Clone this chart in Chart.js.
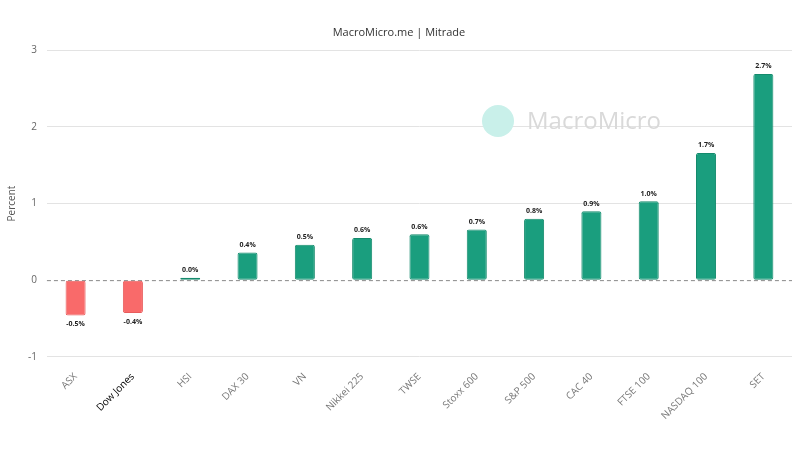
<!DOCTYPE html>
<html>
<head>
<meta charset="utf-8">
<script src="https://cdn.jsdelivr.net/npm/chart.js@4/dist/chart.umd.min.js"></script>
<style>
  html, body { margin: 0; padding: 0; background: #fff; }
  #wrap { width: 800px; height: 450px; }
</style>
</head>
<body>
<div id="wrap"><canvas id="myChart"></canvas></div>
<script>
const indices = ["ASX", "Dow Jones", "HSI", "DAX 30", "VN", "Nikkei 225", "TWSE", "Stoxx 600", "S&P 500", "CAC 40", "FTSE 100", "NASDAQ 100", "SET"];
const changes = [-0.46, -0.43, 0.03, 0.36, 0.46, 0.55, 0.6, 0.66, 0.8, 0.9, 1.03, 1.66, 2.69];
const yTicks = [-1, 0, 1, 2, 3];

const green = '#1a9e7e';
const red = '#f96a6a';

// value labels over / under each bar
const barLabels = {
  id: 'barLabels',
  afterDatasetsDraw(chart) {
    const ctx = chart.ctx;
    const meta = chart.getDatasetMeta(0);
    ctx.save();
    ctx.font = 'bold 7px "Open Sans", sans-serif';
    ctx.fillStyle = '#222';
    ctx.textAlign = 'center';
    meta.data.forEach((bar, i) => {
      const v = changes[i];
      const txt = v.toFixed(1) + '%';
      if (v >= 0) {
        ctx.textBaseline = 'bottom';
        ctx.fillText(txt, bar.x, bar.y - 4);
      } else {
        ctx.textBaseline = 'top';
        ctx.fillText(txt, bar.x, bar.y + 5);
      }
    });
    ctx.restore();
  }
};

// faint brand watermark behind the bars
const watermark = {
  id: 'watermark',
  beforeDatasetsDraw(chart) {
    const ctx = chart.ctx;
    const cx = 527;
    const cy = 121;
    ctx.save();
    ctx.fillStyle = '#c9f0ea';
    ctx.beginPath();
    ctx.arc(cx - 29, cy, 16, 0, Math.PI * 2);
    ctx.fill();
    ctx.fillStyle = '#d9d9d9';
    ctx.font = '24px "Open Sans", sans-serif';
    ctx.textAlign = 'left';
    ctx.textBaseline = 'middle';
    ctx.fillText('MacroMicro', cx, cy + 1);
    ctx.restore();
  }
};

const ctx = document.getElementById('myChart').getContext('2d');
const myChart = new Chart(ctx, {
  type: 'bar',
  data: {
    labels: indices,
    datasets: [{
      label: 'Percent',
      data: changes,
      backgroundColor: changes.map(v => v < 0 ? red : green),
      borderColor: changes.map(v => v < 0 ? '#e85c5c' : '#148a6c'),
      borderWidth: 1,
      borderRadius: 2,
      borderSkipped: false,
      barPercentage: 0.35,
      categoryPercentage: 1
    }]
  },
  options: {
    responsive: true,
    maintainAspectRatio: false,
    animation: false,
    layout: { padding: { left: 6, right: 8, top: 4, bottom: 22 } },
    plugins: {
      legend: { display: false },
      tooltip: { enabled: false },
      title: {
        display: true,
        text: 'MacroMicro.me | Mitrade',
        color: '#333',
        font: { family: '"Open Sans", sans-serif', size: 11, weight: 'normal' },
        padding: { top: 22, bottom: 11 }
      }
    },
    scales: {
      x: {
        grid: { display: false },
        border: { display: false },
        ticks: {
          color: (c) => c.index === 1 ? '#000' : '#777',
          font: { family: '"Open Sans", sans-serif', size: 10 },
          maxRotation: 45,
          minRotation: 45,
          padding: 6
        }
      },
      y: {
        min: yTicks[0],
        max: yTicks[yTicks.length - 1],
        afterBuildTicks: (axis) => { axis.ticks = yTicks.map(v => ({ value: v })); },
        title: {
          display: true,
          text: 'Percent',
          color: '#555',
          font: { family: '"Open Sans", sans-serif', size: 10 },
          padding: { top: 0, bottom: 0 }
        },
        border: { display: false },
        grid: {
          color: (c) => c.tick && c.tick.value === 0 ? '#888' : '#e3e3e3',
          lineWidth: 1,
          drawTicks: false
        },
        ticks: {
          color: '#666',
          font: { family: '"Open Sans", sans-serif', size: 10 },
          padding: 10
        }
      }
    }
  },
  plugins: [watermark, barLabels, {
    id: 'zeroDash',
    beforeDatasetsDraw(chart) {
      const y = chart.scales.y.getPixelForValue(0);
      const a = chart.chartArea;
      const c = chart.ctx;
      c.save();
      c.fillStyle = '#fff';
      c.fillRect(a.left, y - 1, a.right - a.left, 2);
      c.strokeStyle = '#888';
      c.setLineDash([4, 3]);
      c.lineWidth = 1;
      c.beginPath();
      c.moveTo(a.left, y + 0.5);
      c.lineTo(a.right, y + 0.5);
      c.stroke();
      c.restore();
    }
  }]
});
</script>
</body>
</html>
